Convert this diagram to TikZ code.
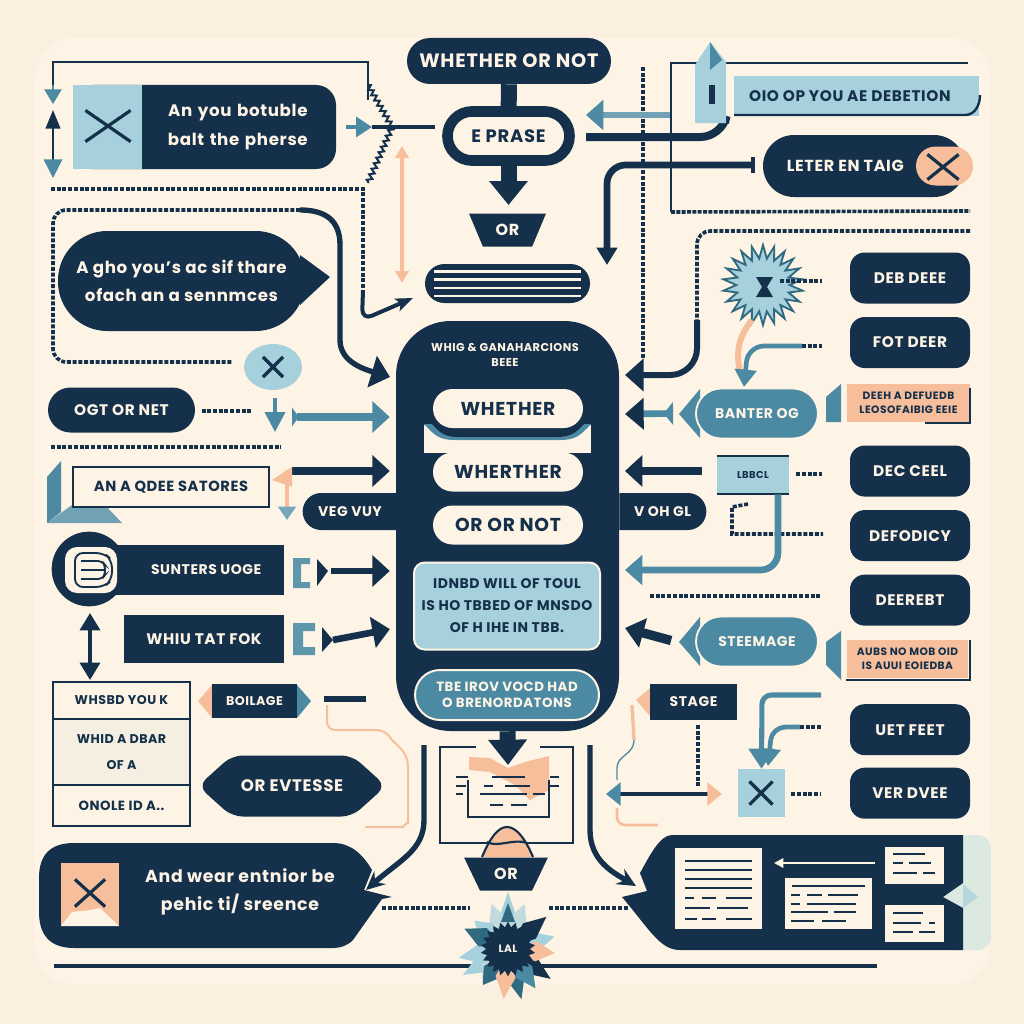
\documentclass[tikz,border=0pt]{standalone}
\usepackage{fontspec}
\setmainfont{Poppins}[LetterSpace=4.0]
\usetikzlibrary{arrows.meta}
\usetikzlibrary{positioning}
\usetikzlibrary{shapes.geometric,shapes.misc,shapes.symbols}
\usetikzlibrary{decorations.pathmorphing}
\definecolor{navy}{HTML}{14304A}
\definecolor{tealc}{HTML}{4C8AA3}
\definecolor{teald}{HTML}{2F6A80}
\definecolor{sky}{HTML}{A6D0DB}
\definecolor{peach}{HTML}{F6BE9B}
\definecolor{cream}{HTML}{FEF4E6}
\definecolor{outer}{HTML}{FBF0E0}
\definecolor{rowfill}{HTML}{F4EFE0}
\definecolor{mint}{HTML}{DCE9E0}
\newcommand{\fnt}[2]{\fontsize{#1}{#2}\selectfont\bfseries}
\tikzset{
  wh/.style 2 args={minimum width=#1*.75pt,minimum height=#2*.75pt,inner sep=0pt},
  dark/.style={fill=navy,text=cream,align=center},
  pill/.style={dark,rounded rectangle},
  side/.style={dark,rounded corners=11pt,font=\fnt{11.5}{14},wh={120}{51}},
  light/.style={fill=cream,text=navy,align=center,rounded rectangle,font=\fnt{14}{16},wh={150}{39}},
  xmk/.style={cross out,draw=navy,line width=2.4pt,inner sep=0pt},
  dots/.style={draw=navy,line width=2.7pt,dash pattern=on 3pt off 1.3pt},
  fat/.style={draw=navy,line width=6pt,-{Triangle[length=13pt,width=23pt]}},
  fatT/.style={draw=tealc,line width=6pt,-{Triangle[length=13pt,width=23pt]}},
  thin/.style={draw=navy,line width=1.6pt},
  barb/.style={draw=navy,line width=4pt,-{Stealth[length=14pt,width=13pt,inset=5pt]}},
  zig/.style={draw=navy,line width=1.5pt,decorate,decoration={zigzag,segment length=4.5pt,amplitude=1.8pt}},
  txtline/.style={draw=navy,line width=1.7pt},
  doc/.style={fill=cream},
}
\begin{document}
\begin{tikzpicture}[x=.75pt,y=-.75pt]
  \fill[outer] (0,0) rectangle (1024,1024);
  \useasboundingbox (0,0) rectangle (1024,1024);
  \fill[cream,rounded corners=30pt] (35,38) rectangle (990,985);

  % free ends of the connectors
  \coordinate (fa) at (368,100);
  \coordinate (fb) at (53,104);
  \coordinate (fb2) at (53,85);
  \coordinate (fc) at (53,110);
  \coordinate (fc2) at (53,160);
  \coordinate (fd) at (53,178);
  \coordinate (fe) at (346,127);
  \coordinate (ff) at (372,127);
  \coordinate (ff2) at (435,127);
  \coordinate (fg) at (402,146);
  \coordinate (fh) at (402,283);
  \coordinate (fi) at (51,189);
  \coordinate (fj) at (363,290);
  \coordinate (fk) at (413,298);
  \coordinate (fl) at (300,210);
  \coordinate (fl2) at (390,377);
  \coordinate (fm) at (233,362);
  \coordinate (fn) at (252,411);
  \coordinate (fo) at (275,398);
  \coordinate (fp) at (275,432);
  \coordinate (fq) at (292,417);
  \coordinate (fr) at (51,447);
  \coordinate (fs) at (281,447);
  \coordinate (ft) at (292,471);
  \coordinate (fu) at (287,470);
  \coordinate (fv) at (287,520);
  \coordinate (fw) at (331,571);
  \coordinate (fx) at (333,640);
  \coordinate (fy) at (324,699);
  \coordinate (fz) at (366,699);
  \coordinate (ga) at (327,705);
  \coordinate (gb) at (365,827);
  \coordinate (gc) at (382,908);
  \coordinate (gd) at (470,908);
  \coordinate (ge) at (424,745);
  \coordinate (gf) at (366,890);
  \coordinate (gg) at (590,745);
  \coordinate (gh) at (636,886);
  \coordinate (gi) at (549,908);
  \coordinate (gj) at (629,908);
  \coordinate (gk) at (54,966);
  \coordinate (gl) at (877,966);
  \coordinate (gm) at (643,67);
  \coordinate (gn) at (643,358);
  \coordinate (go) at (670,115);
  \coordinate (gp) at (586,115);
  \coordinate (gq) at (586,137);
  \coordinate (gr) at (725,123);
  \coordinate (gs) at (671,63);
  \coordinate (gt) at (968,63);
  \coordinate (gu) at (671,212);
  \coordinate (gv) at (970,211);
  \coordinate (gw) at (970,231);
  \coordinate (gx) at (697,320);
  \coordinate (gx2) at (625,375);
  \coordinate (gy) at (753,165);
  \coordinate (gz) at (607,265);
  \coordinate (ha) at (752,320);
  \coordinate (hb) at (740,372);
  \coordinate (hc) at (802,346);
  \coordinate (hd) at (744,387);
  \coordinate (he) at (748,504);
  \coordinate (hf) at (823,534);
  \coordinate (hg) at (650,596);
  \coordinate (hh) at (820,596);
  \coordinate (hi) at (698,725);
  \coordinate (hj) at (698,787);
  \coordinate (hk) at (632,705);
  \coordinate (hl) at (617,780);
  \coordinate (hm) at (606,794);
  \coordinate (hn) at (722,794);
  \coordinate (ho) at (617,808);
  \coordinate (hp) at (658,825);
  \coordinate (hq) at (821,695);
  \coordinate (hr) at (800,727);
  \coordinate (hs) at (875,863);
  \coordinate (ht) at (774,863);

  % top column
  \node[pill,wh={204}{46},font=\fnt{14.5}{16}] (whpill) at (509,61) {WHETHER OR NOT};
  \node[rounded rectangle,draw=navy,line width=8pt,fill=cream,text=navy,wh={122}{49},font=\fnt{13.5}{16}] (phrase) at (508.5,136) {E PRASE};
  \node[trapezium,shape border rotate=180,trapezium stretches=true,dark,wh={77}{33},font=\fnt{12}{14},trapezium left angle=60,trapezium right angle=60] (ortop) at (507.5,230) {OR};
  \node[rounded rectangle,fill=navy,wh={165}{39}] (stripes) at (507.5,283.5) {};
  \foreach \y in {271.5,279.5,288,296}
    \draw[cream,line width=1.7pt] (434,\y) -- (581,\y);
  \draw[navy,line width=12pt] (whpill) -- (phrase);
  \draw[draw=navy,line width=12pt,-{Triangle[length=18pt,width=28pt]}] (phrase.south) -- (508.5,205);
  \draw[peach,line width=2.3pt,{Triangle[length=9pt,width=10pt]}-{Triangle[length=9pt,width=10pt]}] (fg) -- (fh);

  % top left frame
  \node[dark,rounded corners=15pt,wh={263}{84},text width=175pt,font=\fnt{12.5}{21.5}] (btbox) at (204.5,127) {\hspace*{50pt}An you botuble\\\hspace*{50pt}balt the pherse};
  \node[fill=sky,wh={69}{84}] (btsq) at (107.5,127) {};
  \node[xmk,wh={42}{28}] (btx) at (108,126) {};
  \draw[thin] (fa) -- (368,62) -- (53,62) -- (53,90);
  \path (fb2) edge[draw=tealc,line width=1pt,-{Triangle[length=11pt,width=13pt]}] (fb);
  \draw[thin,{Triangle[length=14pt,width=11pt]}-] (fc) -- (53,165);
  \path (fc2) edge[draw=tealc,line width=1pt,-{Triangle[length=14pt,width=14pt]}] (fd);
  \draw[zig] (368,85) -- (392,127);
  \draw[zig] (392,127) -- (368,183);
  \path (fe) edge[draw=tealc,line width=2.5pt,-{Triangle[length=12pt,width=15pt]}] (ff);
  \path (ff) edge[draw=navy,line width=3pt] (ff2);
  \draw[dots] (fi) -- (363,189) -- (fj);
  \draw[draw=navy,line width=3pt,rounded corners=8pt,-{Stealth[length=13pt,width=10pt,inset=3pt]}] (fj) -- (362,320) -- (fk);

  % speech bubble
  \node[dark,rounded corners=37pt,wh={247}{100},font=\fnt{12.5}{21.5}] (bubble) at (181.5,281) {A gho you's ac sif thare\\ ofach an a sennmces};
  \fill[navy] (300,255) -- (330,277) -- (300,305) -- cycle;
  \draw[dots,rounded corners=10pt] (fl) -- (53,210) -- (53,362) -- (fm);
  \draw[draw=navy,line width=4pt,-{Triangle[length=14pt,width=24pt]}] (fl) .. controls (325,210) and (340,220) .. (340,245) -- (340,340) .. controls (340,360) and (360,368) .. (fl2);
  \node[ellipse,fill=sky,wh={58}{46}] (xcirc) at (273,367) {};
  \node[xmk,wh={17}{17}] (xcircx) at (273,367) {};

  % central block
  \node[dark,rounded corners=41pt,wh={223}{410}] (main) at (507.5,526) {};
  \node[text=cream,align=center,font=\fnt{8.5}{11}] (maintop) at (505,355) {WHIG \& GANAHARCIONS\\ BEEE};
  \fill[cream] (424,425) rectangle (591,453);
  \fill[tealc] (424,424) .. controls (435,436) and (440,440) .. (455,440) -- (560,440) .. controls (575,440) and (580,436) .. (591,424) -- cycle;
  \fill[navy] (432,424) .. controls (440,433) and (445,437) .. (458,437) -- (557,437) .. controls (570,437) and (576,433) .. (584,424) -- cycle;
  \node[light] (p1) at (508,408.5) {WHETHER};
  \node[light] (p2) at (508,472) {WHERTHER};
  \node[light] (p3) at (508,525) {OR OR NOT};
  \node[draw=cream,line width=1.5pt,fill=sky,text=navy,rounded corners=8pt,align=center,wh={186}{87},font=\fnt{10.5}{16.5}] (blue) at (507,606) {IDNBD WILL OF TOUL\\ IS HO TBBED OF MNSDO\\ OF H IHE IN TBB.};
  \node[rounded rectangle,draw=cream,line width=1.5pt,fill=tealc,text=cream,align=center,wh={184}{50},font=\fnt{10}{12}] (tealp) at (507,695) {TBE IROV VOCD HAD\\ O BRENORDATONS};
  \node[pill,rounded rectangle right arc=none,wh={94}{37},font=\fnt{10.5}{12}] (veg) at (350,511.5) {VEG VUY};
  \node[pill,rounded rectangle left arc=none,wh={87}{37},font=\fnt{10.5}{12}] (vok) at (662.5,511.5) {V OH GL};

  % left side
  \node[pill,wh={147}{45},font=\fnt{11.5}{14}] (ogt) at (121.5,410) {OGT OR NET};
  \draw[dots] (ogt) ++(80,1) -- (fn);
  \draw[draw=tealc,line width=3pt,-{Triangle[length=15pt,width=15pt]}] (fo) -- (fp);
  \draw[fatT,{Triangle[reversed,length=5pt,width=14pt]}-{Triangle[length=13pt,width=23pt]},shorten >=4.5pt] (fq) -- (fq -| main.west);
  \draw[dots] (fr) -- (fs);
  \fill[tealc] (47,477) -- (61,461) -- (61,512) -- (47,523) -- cycle;
  \fill[tealc!80!white] (47,523) -- (122,523) -- (105,505) -- (72,505) -- cycle;
  \node[draw=navy,line width=1.9pt,fill=cream,text=navy,wh={196}{40},font=\fnt{11}{14}] (anbox) at (171,487) {AN A QDEE SATORES};
  \draw[fat,shorten >=4.5pt] (ft) -- (ft -| main.west);
  \fill[peach] (272,480) -- (292,467) -- (292,487) -- cycle;
  \draw[draw=peach,line width=3pt,-{Triangle[length=10pt,width=13pt,color=tealc!75!white]}] (fu) -- (fv);

  \node[dark,wh={169}{50},font=\fnt{10.5}{12}] (sunt) at (199.5,570) {\hspace*{10pt}SUNTERS UOGE};
  \node[circle,fill=navy,minimum size=56pt,inner sep=0pt] (suntc) at (89,569) {};
  \node[fill=cream,rounded corners=9pt,wh={52}{46}] (sunti) at (91,570) {};
  \draw[navy,line width=1.4pt,rounded corners=6pt] (75,553) -- (104,553) -- (112,560) -- (112,580) -- (104,587) -- (75,587) -- cycle;
  \draw[navy,line width=1.4pt,rounded corners=3pt] (81,561) -- (102,561) -- (105,565) -- (105,575) -- (102,579) -- (81,579);
  \draw[navy,line width=1.4pt] (81,570) -- (104,570);
  \node[dark,wh={160}{48},font=\fnt{11.5}{14}] (whiu) at (204,639) {WHIU TAT FOK};
  \fill[tealc!90!white] (293,558) -- (310,558) -- (310,564) -- (301,564) -- (301,582) -- (310,582) -- (310,588) -- (293,588) -- cycle;
  \fill[tealc!90!white] (293,623) -- (315,623) -- (315,631) -- (303,631) -- (303,647) -- (315,647) -- (315,655) -- (293,655) -- cycle;
  \fill[navy] (317,559) -- (328,571) -- (317,586) -- cycle;
  \fill[navy] (322,627) -- (333,640) -- (322,652) -- cycle;
  \draw[fat,line width=5pt,shorten >=4.5pt] (fw) -- (fw -| main.west);
  \draw[fat,line width=5pt,shorten >=4.5pt] (fx) -- (main.west |- 0,628);
  \draw[draw=navy,line width=2.6pt,{Triangle[length=13pt,width=15pt]}-{Triangle[length=13pt,width=15pt]}] (suntc) ++(1,44) -- (90,680);

  % table
  \node[draw=navy,line width=1.7pt,fill=cream,text=navy,wh={137}{37},font=\fnt{9.5}{12}] (r1) at (121.5,700.5) {WHSBD YOU K};
  \node[draw=navy,line width=1.7pt,fill=rowfill,text=navy,align=center,wh={137}{66},font=\fnt{9.5}{19},below=-1.7pt of r1] (r2) {WHID A DBAR\\ OF A};
  \node[draw=navy,line width=1.7pt,fill=cream,text=navy,wh={137}{41},font=\fnt{10}{12},below=-1.7pt of r2] (r3) {ONOLE ID A..};
  \fill[peach] (198,701) -- (212,685) -- (212,718) -- cycle;
  \fill[tealc] (297,685) -- (311,701) -- (297,718) -- cycle;
  \node[dark,wh={85}{34},font=\fnt{9.5}{12}] (boil) at (254.5,701) {BOILAGE};
  \path (fy) edge[draw=navy,line width=4.5pt] (fz);
  \draw[peach,line width=1.5pt,rounded corners=6pt] (ga) -- (327,730) -- (385,730) .. controls (395,745) and (408,750) .. (408,775) -- (408,815) .. controls (408,822) and (402,827) .. (395,827) -- (gb);
  \node[signal,signal to=east and west,signal pointer angle=84,dark,rounded corners=8pt,wh={188}{61},font=\fnt{12.5}{14}] (rev) at (292,786) {OR EVTESSE};

  % bottom left bubble
  \fill[navy] (74,843) -- (333,843) .. controls (350,843) and (362,853) .. (372,870) -- (364,890) -- (392,897) -- (382,899) -- (353,940) .. controls (347,946) and (340,948) .. (333,948) -- (74,948) .. controls (50,948) and (39,935) .. (39,912) -- (39,878) .. controls (39,855) and (50,843) .. (74,843) -- cycle;
  \node[text=cream,align=center,font=\fnt{13}{21.5}] (andtxt) at (240,892) {And wear entnior be\\ pehic ti/ sreence};
  \node[fill=peach,wh={58}{63}] (andsq) at (90,894.5) {};
  \fill[cream] (61,926) -- (72,912) -- (90,910) -- (100,908) -- (119,926) -- cycle;
  \node[xmk,wh={27}{24}] (andx) at (90,893) {};
  \draw[dots] (gc) -- (gd);
  \draw[dots] (gi) -- (gj);
  \draw[barb] (ge) -- (424,820) .. controls (424,850) and (400,860) .. (gf);
  \draw[barb] (gg) -- (590,830) .. controls (590,860) and (612,872) .. (gh);
  \draw[draw=navy,line width=2.4pt] (gk) -- (gl);

  % bottom centre
  \draw[thin] (476,747) -- (440,747) -- (440,843) -- (573,843) -- (573,747) -- (540,747);
  \fill[peach] (469,757) -- (490,758) -- (508,768) -- (525,762) -- (549,756) -- (549,790) -- (530,800) -- (515,785) -- (490,772) -- (469,770) -- cycle;
  \draw[thin] (468,780) -- (468,817) -- (549,817) -- (549,780);
  \foreach \a/\b/\y in {456/468/777,492/525/777,550/559/777,456/466/786,484/493/786,505/530/786,550/559/786,456/463/794,480/527/794,533/545/794,490/503/805,511/527/805}
    \draw[txtline] (\a,\y) -- (\b,\y);
  \draw[draw=navy,line width=12pt,-{Triangle[length=19pt,width=28pt]}] (main.south) -- (508,765);
  \fill[peach] (483,857) .. controls (490,838) and (498,828) .. (507,828) .. controls (516,828) and (525,838) .. (532,857) -- cycle;
  \draw[thin] (482,857) .. controls (490,838) and (498,827) .. (507,827) .. controls (516,827) and (525,838) .. (533,857);
  \draw[thin] (487,842) .. controls (497,848) and (515,838) .. (527,843);
  \node[trapezium,shape border rotate=180,trapezium stretches=true,dark,wh={84}{33},font=\fnt{12}{14},trapezium left angle=58,trapezium right angle=58] (orbot) at (506,874) {OR};

  % burst
  \foreach \a/\c/\r in {90/sky/57,70/sky!70!cream/48,110/sky!70!cream/48,140/sky/44,190/sky/50,210/sky/52,15/sky/48,230/sky!70!cream/40,155/teald/48,40/navy/50,325/navy/52,235/teald/44,285/teald/52,305/tealc/48,265/peach/50,355/peach/47}
    \fill[\c,shift={(508,949)},rotate=\a] (5,0) -- (28,-10) -- (\r,0) -- (28,10) -- cycle;
  \fill[teald] (508,903) -- (515,922) -- (501,922) -- cycle;
  \node[star,star points=22,star point ratio=1.25,fill=navy,text=cream,minimum size=41pt,inner sep=0pt,font=\fnt{8}{10}] (burst) at (508,949) {LAL};

  % right panel
  \fill[mint,rounded corners=10pt] (940,835) rectangle (991,950);
  \fill[navy] (672,835) -- (963,835) -- (963,883) -- (943,897) -- (963,908) -- (963,950) -- (680,950) .. controls (660,950) and (650,930) .. (622,897) -- (647,891) -- (640,873) .. controls (650,855) and (660,835) .. (672,835) -- cycle;
  \fill[sky!70!mint] (963,884) -- (978,897) -- (963,908) -- cycle;
  \node[doc,wh={87}{81}] (docA) at (718.5,888.5) {};
  \node[doc,wh={87}{51}] (docB) at (828.5,903.5) {};
  \node[doc,wh={59}{37}] (docC) at (914.5,865.5) {};
  \node[doc,wh={59}{37}] (docD) at (914.5,923.5) {};
  \foreach \a/\b/\y in {685/752/861,685/752/870,685/752/879,685/752/888,685/694/898,702/716/898,726/752/898,685/710/908,717/748/908,685/697/919,702/716/919,726/752/919}
    \draw[txtline] (\a,\y) -- (\b,\y);
  \foreach \a/\b/\y in {792/865/886,791/800/895,807/822/895,828/858/895,791/800/904,807/856/904,791/828/912,834/856/912,791/814/921,822/846/921}
    \draw[txtline] (\a,\y) -- (\b,\y);
  \foreach \a/\b/\y in {893/925/854,893/903/863,909/931/863,893/917/873,923/935/873,893/923/913,893/921/923,929/935/923,893/913/932,919/935/932}
    \draw[txtline] (\a,\y) -- (\b,\y);
  \draw[cream,line width=1.6pt,-{Triangle[length=7pt,width=7pt]}] (hs) -- (ht);

  % top right
  \draw[dots] (gm) -- (gn);
  \path (go) edge[draw=tealc!80!white,line width=5pt,-{Triangle[length=13pt,width=22pt,color=tealc]}] (gp);
  \draw[draw=navy,line width=6pt,rounded corners=16pt] (gq) -- (722,137) -- (gr);
  \draw[draw=navy,line width=2.2pt] (gu) -- (gs) -- (gt);
  \draw[dots,dash pattern=on 3pt off 1pt] (gu) -- (gv);
  \draw[dots,rounded corners=10pt] (gw) -- (697,231) -- (gx);
  \draw[draw=navy,line width=4.5pt,rounded corners=20pt,-{Triangle[length=14pt,width=24pt]}] (gx) -- (697,375) -- (gx2);
  \fill[sky] (695,65) -- (710,42) -- (726,62) -- (726,123) -- (695,123) -- cycle;
  \fill[tealc] (710,42) -- (722,60) -- (710,70) -- cycle;
  \draw[navy,line width=4pt] (712,85) -- (712,104);
  \node[fill=sky,text=navy,wh={245}{39},font=\fnt{11.5}{14}] (oid) at (856.5,96) {OIO OP YOU AE DEBETION\hspace*{10pt}};
  \draw[draw=navy,line width=1.8pt] (734,115) -- (965,115) .. controls (975,115) and (980,105) .. (980,95);
  \node[pill,wh={202}{62},font=\fnt{12}{14}] (leter) at (864,166) {\hspace*{-28pt}LETER EN TAIG};
  \node[rounded rectangle,fill=peach,wh={57}{39}] (letp) at (944.5,166) {};
  \node[xmk,wh={28}{22}] (letx) at (943,167) {};
  \draw[draw=navy,line width=5pt,rounded corners=14pt,-{Triangle[length=13pt,width=15pt]}] (gy) -- (607,165) -- (gz);
  \draw[navy,line width=3pt] (753,157) -- (753,173);

  % star and arrows
  \node[star,star points=22,star point ratio=1.5,fill=sky,draw=teald,line width=1.4pt,minimum size=60pt,inner sep=0pt] (spark) at (763,285) {};
  \fill[navy] (756,277) -- (773,277) -- (767,287) -- (773,297) -- (756,297) -- (762,287) -- cycle;
  \draw[dots] (spark.east) ++(-12,-4) -- (822,281);
  \draw[draw=peach,line width=4.5pt] (ha) .. controls (740,335) and (735,350) .. (hb);
  \draw[draw=tealc,line width=3.5pt,rounded corners=12pt,-{Triangle[length=13pt,width=16pt]}] (hc) -- (748,346) -- (hd);
  \draw[dots] (hc) -- (822,346);

  % right column
  \node[side] (d1) at (910,278) {DEB DEEE};
  \node[side,below=9.75pt of d1] (d2) {FOT DEER};
  \node[side,below=57.75pt of d2] (d3) {DEC CEEL};
  \node[side,below=9.75pt of d3] (d4) {DEFODICY};
  \node[side,below=9.75pt of d4] (d5) {DEEREBT};
  \node[side,below=58.5pt of d5] (d6) {UET FEET};
  \node[side,below=9pt of d6] (d7) {VER DVEE};

  % teal pills
  \fill[tealc] (679,414) -- (700,389) -- (700,438) -- cycle;
  \node[rounded rectangle,draw=cream,line width=1.4pt,fill=tealc,text=cream,wh={122}{50},font=\fnt{10.5}{12}] (banter) at (757,413.5) {BANTER OG};
  \fill[tealc] (679,642) -- (700,617) -- (700,666) -- cycle;
  \node[rounded rectangle,draw=cream,line width=1.4pt,fill=tealc,text=cream,wh={122}{50},font=\fnt{10.5}{12}] (steem) at (757,641.5) {STEEMAGE};
  \draw[draw=tealc,line width=5pt,{Triangle[reversed,length=7pt,width=17pt]}-{Triangle[length=14pt,width=23pt,color=navy]}] (banter.west) ++(-22,0) -- (625,414);
  \draw[draw=navy,line width=7pt,-{Triangle[length=14pt,width=22pt]}] (steem.west) ++(-24,-1) -- (625,628);

  \fill[tealc] (826,397) -- (841,384) -- (841,422) -- (826,422) -- cycle;
  \node[fill=peach,text=navy,align=center,wh={123}{38},font=\fnt{8}{10.5}] (note1) at (908.5,403) {DEEH A DEFUEDB\\ LEOSOFAIBIG EEIE};
  \draw[draw=navy,line width=1.3pt] (925,423) -- (970,423) -- (970,388);
  \fill[tealc] (826,642) -- (841,631) -- (841,680) -- (826,665) -- cycle;
  \node[fill=peach,text=navy,align=center,wh={121}{38},font=\fnt{8}{10.5}] (note2) at (907.5,659) {AUBS NO MOB OID\\ IS AUUI EOIEDBA};
  \draw[draw=navy,line width=1.3pt] (846,680) -- (970,680) -- (970,640);

  \node[fill=sky,text=navy,wh={72}{38},font=\fnt{7.5}{9}] (label) at (753,475) {LBBCL};
  \draw[draw=navy,line width=1.8pt] (label.north west) -- (label.north east);
  \draw[draw=navy,line width=1.8pt] (label.south west) -- (label.south east);
  \draw[dots] (label.east) ++(7,-1) -- (822,474);
  \draw[fat,line width=6pt] (label.west) ++(-15,-4) -- (625,471);
  \draw[dots] (he) -- (732,507) -- (732,534) -- (hf);
  \draw[draw=tealc,line width=5pt,rounded corners=13pt,-{Triangle[length=13pt,width=22pt]}] (label.south -| 778,0) -- (778,570) -- (625,570);
  \draw[dots] (hg) -- (hh);

  % stage
  \fill[peach] (636,700) -- (650,688) -- (650,716) -- cycle;
  \node[dark,wh={87}{36},font=\fnt{10.5}{12}] (stage) at (693.5,702) {STAGE};
  \draw[dots] (hi) -- (hj);
  \draw[peach,line width=2.5pt] (hk) -- (634,740);
  \draw[tealc,line width=1pt] (634,740) .. controls (634,755) and (617,755) .. (617,768) -- (hl);
  \draw[draw=navy,line width=3.5pt,{Triangle[length=11pt,width=17pt,color=tealc]}-{Triangle[length=11pt,width=17pt,color=peach]}] (hm) -- (hn);
  \draw[peach,line width=2pt,rounded corners=6pt] (ho) -- (617,825) -- (hp);
  \node[fill=sky,wh={47}{48}] (xbox) at (761.5,793) {};
  \node[xmk,wh={20}{20}] (xboxx) at (761,793) {};
  \draw[dots] (xbox.east) ++(6,1) -- (820,794);
  \draw[draw=tealc,line width=3.8pt,rounded corners=7pt,-{Triangle[length=15pt,width=19pt]}] (hq) -- (762,695) -- (xbox.north);
  \draw[draw=tealc,line width=3.5pt,rounded corners=10pt,-{Triangle[length=13pt,width=16pt]}] (hr) -- (772,727) -- (768,766);
  \draw[dots] (hr) -- (822,727);
\end{tikzpicture}
\end{document}
